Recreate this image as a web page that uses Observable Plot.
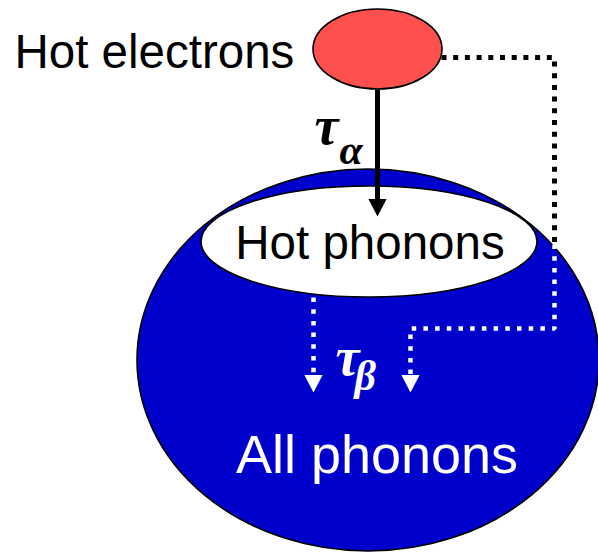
<!DOCTYPE html>
<html>
<head>
<meta charset="utf-8">
<script src="https://cdn.jsdelivr.net/npm/d3@7"></script>
<script src="https://cdn.jsdelivr.net/npm/@observablehq/plot@0.6"></script>
<style>
  html, body { margin: 0; padding: 0; background: #fff; }
  #chart svg { display: block; }
</style>
</head>
<body>
<div id="chart"></div>
<script>
// ---- Diagram data (coordinates in diagram units) ----
const ellipseNames = ["All phonons", "Hot phonons", "Hot electrons"];
const ellipseCx = [368, 369, 377.5];
const ellipseCy = [360, 241.5, 49];
const ellipseRx = [231, 168, 64.5];
const ellipseRy = [191, 55.5, 40];

const labelTexts = ["Hot electrons", "Hot phonons", "All phonons"];
const labelX = [14, 369.5, 376.5];
const labelY = [67, 258, 472];

const tauSymbols = ["τ", "τ"];
const tauSubscripts = ["α", "β"];
const tauX = [314, 335];
const tauY = [143, 374];
const subX = [339, 354];
const subY = [163, 389];

// energy-transfer paths
const directPath = [[377, 89], [377, 200]];                   // hot electrons -> hot phonons
const bypassPathOutside = [[441, 57], [554, 57], [554, 244]];   // hot electrons -> all phonons (outside)
const bypassPathInside = [[554, 244], [554, 328], [410, 328], [410, 376]];
const decayPath = [[313, 297], [313, 376]];                     // hot phonons -> all phonons
const arrowTipX = [377, 313, 410];
const arrowTipY = [216, 392, 392];

// ---- Styles ----
const fills = {"All phonons": "#0000cc", "Hot phonons": "#ffffff", "Hot electrons": "#ff5050"};
const labelColors = ["#000000", "#000000", "#ffffff"];
const labelSizes = [47.5, 47.5, 54];
const tauColors = ["#000000", "#ffffff"];

const ellipses = ellipseNames.map((name, i) => ({name, cx: ellipseCx[i], cy: ellipseCy[i], rx: ellipseRx[i], ry: ellipseRy[i]}));
const labels = labelTexts.map((t, i) => ({t, x: labelX[i], y: labelY[i], color: labelColors[i], size: labelSizes[i]}));
const taus = tauSymbols.map((t, i) => ({t, x: tauX[i], y: tauY[i], color: tauColors[i]}));
const subs = tauSubscripts.map((t, i) => ({t, x: subX[i], y: subY[i], color: tauColors[i]}));
const toPts = (p) => p.map(([x, y]) => ({x, y}));
const heads = arrowTipX.map((x, i) => ({x, y: arrowTipY[i], color: i === 0 ? "#000" : "#fff"}));

// down-pointing triangle whose tip sits at the anchor point
const downTriangle = {
  draw(ctx, size) {
    const r = Math.sqrt(size / Math.PI);
    const w = 2.6 * r, h = 2.5 * r;
    ctx.moveTo(0, 0);
    ctx.lineTo(-w / 2, -h);
    ctx.lineTo(w / 2, -h);
    ctx.closePath();
  }
};

function ellipseMark(rows) {
  return (index, scales) => {
    const {x, y} = scales;
    const g = d3.create("svg:g");
    for (const d of rows) {
      g.append("ellipse")
        .attr("cx", x(d.cx))
        .attr("cy", y(d.cy))
        .attr("rx", Math.abs(x(d.cx + d.rx) - x(d.cx)))
        .attr("ry", Math.abs(y(d.cy + d.ry) - y(d.cy)))
        .attr("fill", fills[d.name])
        .attr("stroke", "#000")
        .attr("stroke-width", 1.6);
    }
    return g.node();
  };
}

const chart = Plot.plot({
  width: 598,
  height: 553,
  margin: 0,
  x: {domain: [0, 598], range: [0, 598], axis: null},
  y: {domain: [0, 553], range: [0, 553], axis: null},
  style: {background: "#fff", overflow: "visible"},
  marks: [
    ellipseMark(ellipses.filter(d => d.name !== "Hot electrons")),
    Plot.line(toPts(bypassPathOutside), {x: "x", y: "y", stroke: "#000", strokeWidth: 5, strokeDasharray: "5,6.7", strokeLinecap: "butt", strokeLinejoin: "miter"}),
    Plot.line(toPts(bypassPathInside), {x: "x", y: "y", stroke: "#fff", strokeWidth: 4.5, strokeDasharray: "4.5,7.2", strokeLinecap: "butt", strokeLinejoin: "miter"}),
    Plot.line(toPts(decayPath), {x: "x", y: "y", stroke: "#fff", strokeWidth: 4.5, strokeDasharray: "4.5,7.2", strokeLinecap: "butt"}),
    Plot.line(toPts(directPath), {x: "x", y: "y", stroke: "#000", strokeWidth: 5, strokeLinecap: "butt"}),
    Plot.dot(heads, {x: "x", y: "y", symbol: downTriangle, r: 7, fill: d => d.color, stroke: null}),
    ellipseMark(ellipses.filter(d => d.name === "Hot electrons")),
    Plot.text(labels.slice(0, 1), {x: "x", y: "y", text: "t", textAnchor: "start", lineAnchor: "bottom", fill: "color", fontSize: d => d.size, fontFamily: "Liberation Sans, Arial, sans-serif"}),
    Plot.text(labels.slice(1), {x: "x", y: "y", text: "t", textAnchor: "middle", lineAnchor: "bottom", fill: "color", fontSize: d => d.size, fontFamily: "Liberation Sans, Arial, sans-serif"}),
    Plot.text(taus, {x: "x", y: "y", text: "t", textAnchor: "start", lineAnchor: "bottom", fill: "color", fontSize: 54, fontStyle: "italic", fontWeight: "bold", fontFamily: "Liberation Serif, Times New Roman, serif"}),
    Plot.text(subs, {x: "x", y: "y", text: "t", textAnchor: "start", lineAnchor: "bottom", fill: "color", fontSize: 42, fontStyle: "italic", fontWeight: "bold", fontFamily: "Liberation Serif, Times New Roman, serif"})
  ]
});
document.getElementById("chart").append(chart);
</script>
</body>
</html>
